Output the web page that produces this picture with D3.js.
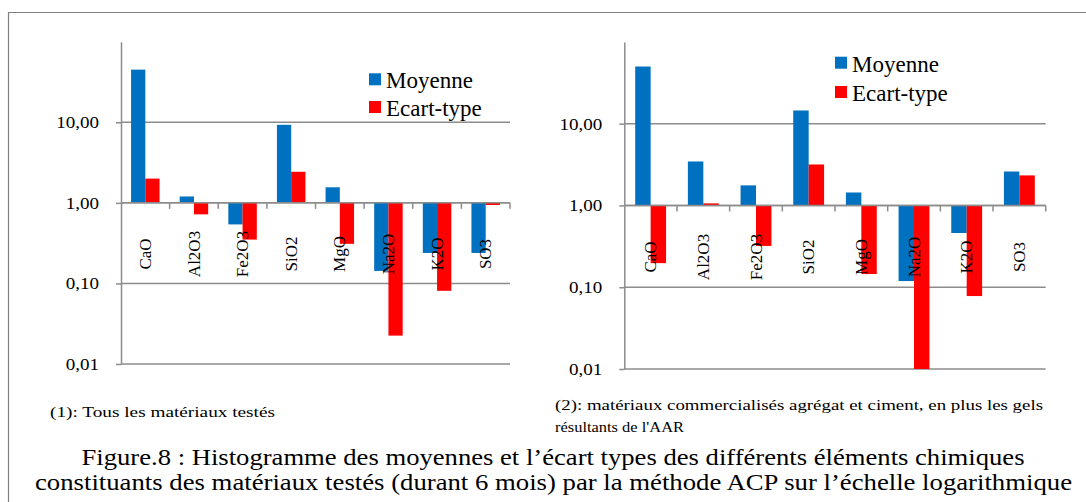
<!DOCTYPE html>
<html>
<head>
<meta charset="utf-8">
<script src="https://cdn.jsdelivr.net/npm/d3@7"></script>
<style>
  html, body { margin: 0; padding: 0; background: #fff; }
  svg { display: block; }
</style>
</head>
<body>
<svg id="chart" width="1086" height="502"></svg>
<script>
// ---------- data ----------
const categories = ["CaO", "Al2O3", "Fe2O3", "SiO2", "MgO", "Na2O", "K2O", "SO3"];
const seriesNames = ["Moyenne", "Ecart-type"];
const seriesColors = ["#0070C0", "#FF0000"];

// chart (1): Tous les matériaux testés
const moyenne1   = [45, 1.2, 0.54, 9.3, 1.56, 0.143, 0.239, 0.239];
const ecartType1 = [2.0, 0.72, 0.35, 2.43, 0.31, 0.0225, 0.081, 0.94];

// chart (2): matériaux commercialisés agrégat et ciment + gels AAR
const moyenne2   = [50, 3.45, 1.76, 14.5, 1.44, 0.119, 0.46, 2.6];
const ecartType2 = [0.197, 1.06, 0.32, 3.17, 0.145, 0.01, 0.078, 2.33];

const tickValues = [10, 1, 0.1, 0.01];
const yDomain = [0.01, 100];

const caption1 = "(1): Tous les matériaux testés";
const caption2a = "(2): matériaux commercialisés agrégat et ciment, en plus les gels";
const caption2b = "résultants de l'AAR";
const figLine1 = "Figure.8 : Histogramme des moyennes et l\u2019écart types des différents éléments chimiques";
const figLine2 = "constituants des matériaux testés (durant 6 mois) par la méthode ACP sur l\u2019échelle logarithmique";

// ---------- drawing ----------
const FONT = '"Liberation Serif"';
const svg = d3.select("#chart");
const gray = "#8c8c8c";
const fmt = v => d3.format(".2f")(v).replace(".", ",");

function txt(sel, size) {
  return sel.style("font-family", FONT).style("font-size", size + "px").attr("fill", "#000");
}

// outer frame (top and left lines)
svg.append("line").attr("x1", 8).attr("x2", 1086).attr("y1", 12.5).attr("y2", 12.5)
  .attr("stroke", "#7f7f7f").attr("stroke-width", 1.2);
svg.append("line").attr("x1", 8.5).attr("x2", 8.5).attr("y1", 12).attr("y2", 502)
  .attr("stroke", "#7f7f7f").attr("stroke-width", 1.2);

function drawChart(cfg) {
  const g = svg.append("g");
  const x = d3.scaleBand().domain(categories).range([cfg.left, cfg.right]).padding(0);
  const bw = x.bandwidth();
  const xs = d3.scaleBand().domain(seriesNames).range([bw * 0.207, bw * 0.793]).padding(0);
  const y = d3.scaleLog().domain(yDomain).range([cfg.bottom, cfg.top]);

  // gridlines
  g.selectAll("line.grid").data(tickValues).join("line")
    .attr("x1", cfg.left).attr("x2", cfg.right)
    .attr("y1", d => y(d)).attr("y2", d => y(d))
    .attr("stroke", gray).attr("stroke-width", 1.5);

  // bars
  const data = categories.map((c, i) => ({ c, vals: [cfg.s1[i], cfg.s2[i]] }));
  const grp = g.selectAll("g.cat").data(data).join("g")
    .attr("transform", d => `translate(${x(d.c)},0)`);
  grp.selectAll("rect").data(d => d.vals.map((v, j) => ({ v, s: seriesNames[j], j })))
    .join("rect")
    .attr("x", d => xs(d.s))
    .attr("width", xs.bandwidth())
    .attr("y", d => Math.min(y(d.v), y(1)))
    .attr("height", d => Math.abs(y(d.v) - y(1)))
    .attr("fill", d => seriesColors[d.j]);

  // category axis line at 1 with tick marks at band boundaries
  g.append("line").attr("x1", cfg.left).attr("x2", cfg.right)
    .attr("y1", y(1)).attr("y2", y(1)).attr("stroke", gray).attr("stroke-width", 1.5);
  const bounds = categories.map(c => x(c)).concat([cfg.right]);
  g.selectAll("line.ctick").data(bounds.slice(1)).join("line")
    .attr("x1", d => d).attr("x2", d => d)
    .attr("y1", y(1)).attr("y2", y(1) + 6)
    .attr("stroke", gray).attr("stroke-width", 1.5);

  // category labels (rotated)
  txt(g.selectAll("text.cat").data(categories).join("text"), 17)
    .attr("transform", d => `translate(${x(d) + bw / 2},${cfg.labelY}) rotate(-90)`)
    .attr("text-anchor", "middle")
    .attr("dy", "0.33em")
    .text(d => d);

  // value axis
  const ax = g.append("g").attr("transform", `translate(${cfg.left},0)`)
    .call(d3.axisLeft(y).tickValues(tickValues).tickFormat(fmt)
      .tickSizeInner(5).tickSizeOuter(0).tickPadding(17));
  ax.select(".domain").attr("stroke", gray).attr("stroke-width", 1.5);
  ax.selectAll(".tick line").attr("stroke", gray).attr("stroke-width", 1.5);
  txt(ax.selectAll(".tick text"), 17)
    .each(function () {
      const w = this.getComputedTextLength();
      d3.select(this).attr("textLength", w * 1.12).attr("lengthAdjust", "spacingAndGlyphs");
    });

  // legend
  const lg = g.append("g");
  seriesNames.forEach((s, i) => {
    lg.append("rect").attr("x", cfg.legX).attr("y", cfg.legY + i * cfg.legStep)
      .attr("width", 12).attr("height", 12).attr("fill", seriesColors[i]);
    txt(lg.append("text"), 23).attr("x", cfg.legX + 17).attr("y", cfg.legY + 15 + i * cfg.legStep)
      .text(s);
  });
}

drawChart({ left: 121, right: 510, top: 41.7, bottom: 364, s1: moyenne1, s2: ecartType1,
  labelY: 254, legX: 369, legY: 73.3, legStep: 27.7 });
drawChart({ left: 624.3, right: 1045.7, top: 41.9, bottom: 369, s1: moyenne2, s2: ecartType2,
  labelY: 257, legX: 835, legY: 56.7, legStep: 29.3 });

// captions
txt(svg.append("text"), 15).attr("x", 50).attr("y", 417)
  .attr("textLength", 225).attr("lengthAdjust", "spacingAndGlyphs").text(caption1);
txt(svg.append("text"), 15).attr("x", 555).attr("y", 410)
  .attr("textLength", 488).attr("lengthAdjust", "spacingAndGlyphs").text(caption2a);
txt(svg.append("text"), 15).attr("x", 555).attr("y", 432)
  .attr("textLength", 129).attr("lengthAdjust", "spacingAndGlyphs").text(caption2b);

txt(svg.append("text"), 24).attr("x", 553).attr("y", 465).attr("text-anchor", "middle")
  .attr("textLength", 943).attr("lengthAdjust", "spacingAndGlyphs").text(figLine1);
txt(svg.append("text"), 24).attr("x", 553.5).attr("y", 490).attr("text-anchor", "middle")
  .attr("textLength", 1037).attr("lengthAdjust", "spacingAndGlyphs").text(figLine2);
</script>
</body>
</html>
